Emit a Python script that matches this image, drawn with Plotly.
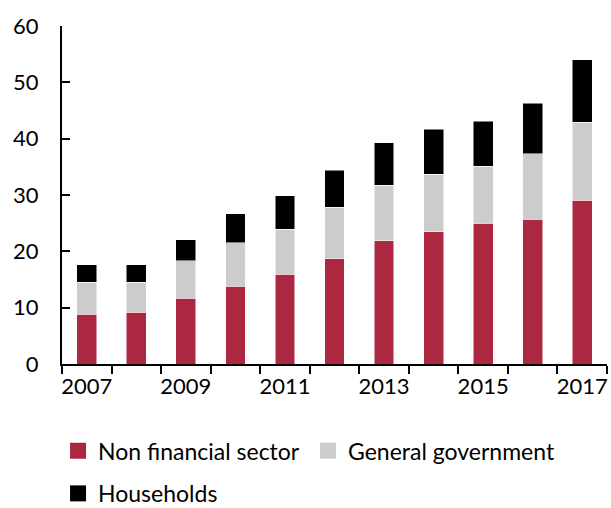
import plotly.graph_objects as go

years = [2007, 2008, 2009, 2010, 2011, 2012, 2013, 2014, 2015, 2016, 2017]
non_financial = [8.8, 9.2, 11.7, 13.8, 15.9, 18.7, 21.9, 23.5, 25.0, 25.7, 29.1]
general_gov = [5.7, 5.3, 6.6, 7.7, 8.0, 9.1, 9.8, 10.2, 10.1, 11.6, 13.8]
households = [3.1, 3.1, 3.8, 5.2, 6.0, 6.6, 7.6, 8.0, 8.0, 9.0, 11.1]
tick_years = [2007, 2009, 2011, 2013, 2015, 2017]

series = [
    ("Non financial sector", non_financial, "#AC2841", "legend"),
    ("General government", general_gov, "#CCCCCC", "legend"),
    ("Households", households, "#000000", "legend2"),
]

FONT = "Lato"
fig = go.Figure()
for name, vals, color, leg in series:
    fig.add_trace(go.Bar(x=years, y=vals, name=name, showlegend=False,
                         marker=dict(color=color, line=dict(color="white", width=0.5))))
# legend swatches (no data)
for name, vals, color, leg in series:
    fig.add_trace(go.Scatter(x=[None], y=[None], mode="markers", name=name,
                             marker=dict(symbol="square", size=16, color=color,
                                         line=dict(width=0)),
                             legend=leg))

fig.update_layout(
    barmode="stack",
    bargap=0.6,
    width=611, height=508,
    margin=dict(l=62, r=4, t=26, b=144),
    paper_bgcolor="white", plot_bgcolor="white",
    font=dict(family=FONT, size=22, color="black"),
    xaxis=dict(
        range=[2006.5, 2017.5],
        tickvals=tick_years,
        ticktext=[str(y) for y in tick_years],
        ticks="", showgrid=False, zeroline=False,
        showline=True, linecolor="black", linewidth=2,
        tickfont=dict(size=22), ticklabelstandoff=2,
        automargin=False,
        minor=dict(tick0=2006.5, dtick=1, ticks="outside", ticklen=8,
                   tickcolor="black", tickwidth=2, showgrid=False),
    ),
    yaxis=dict(
        range=[0, 60], tickvals=[0, 10, 20, 30, 40, 50, 60],
        ticks="inside", ticklen=8, tickwidth=2, tickcolor="black",
        showgrid=False, zeroline=False,
        showline=True, linecolor="black", linewidth=2,
        tickfont=dict(size=22), ticklabelstandoff=17,
        automargin=False,
    ),
    legend=dict(orientation="h", xref="container", yref="container",
                x=0.095, xanchor="left", y=0.155, yanchor="top",
                font=dict(size=23), bgcolor="rgba(0,0,0,0)", itemwidth=30,
                entrywidth=205, traceorder="normal"),
    legend2=dict(orientation="h", xref="container", yref="container",
                 x=0.095, xanchor="left", y=0.071, yanchor="top",
                 font=dict(size=23), bgcolor="rgba(0,0,0,0)", itemwidth=30),
)

fig.write_html("out.html")
